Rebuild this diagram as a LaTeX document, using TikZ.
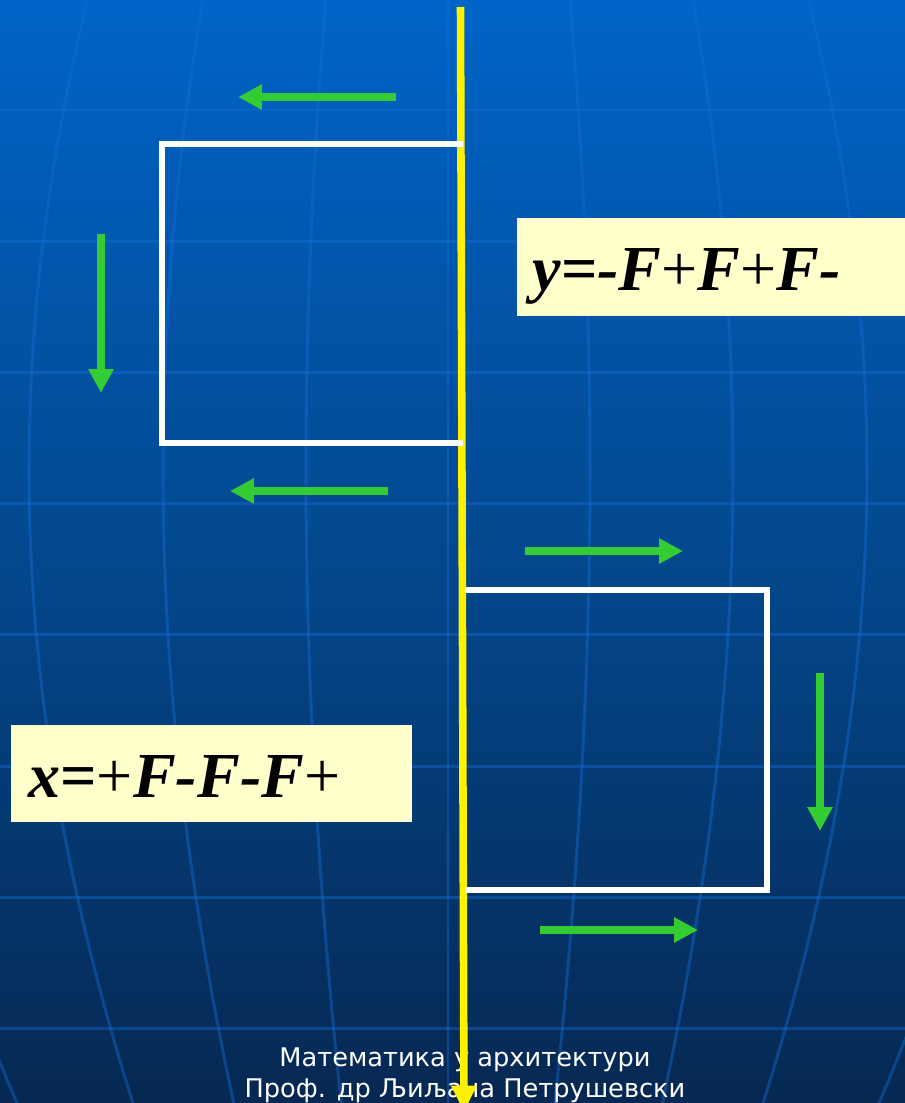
\documentclass[tikz,border=0pt]{standalone}
\usepackage{fontspec}
\setmainfont{Liberation Serif}
\newfontfamily\footfont{DejaVu Sans}
\usetikzlibrary{arrows.meta}
\definecolor{bgtop}{RGB}{0,100,200}
\definecolor{bgmid}{RGB}{3,72,142}
\definecolor{bgbot}{RGB}{6,40,82}
\definecolor{gridblue}{RGB}{20,110,215}
\definecolor{arrowgreen}{RGB}{51,204,51}
\definecolor{notepaper}{RGB}{255,255,204}

\begin{document}
\begin{tikzpicture}[x=0.02cm,y=-0.02cm,
  gridline/.style={gridblue,opacity=0.42,line width=1.7pt},
  frame/.style={white,line width=3.4pt},
  force/.style={arrowgreen,line width=4.5pt,-{Triangle[length=13.6pt,width=13.6pt]}},
  axis/.style={yellow,line width=4.3pt,-{Triangle[length=15pt,width=13.6pt]}},
  formula/.style={anchor=base west,inner sep=0pt,font=\fontsize{36.5}{40}\selectfont\bfseries\itshape},
  credit/.style={anchor=base,inner sep=0pt,white,font=\footfont\fontsize{14.6}{17}\selectfont}]
  \useasboundingbox (0,0) rectangle (905,1103);
  \shade[top color=bgtop,bottom color=bgbot,middle color=bgmid] (0,0) rectangle (905,1103);
  \foreach \yy in {110,241,372,503,634,766,897,1028}
    \draw[gridline] (0,\yy) -- (905,\yy);
  \foreach \k in {-573,-419,-285,-142,0,142,285,419,573}
    \draw[gridline] plot[domain=0:1103,samples=50,variable=\t]
      ({448+\k*cos(deg((\t-470)/880))},\t);

  \fill[notepaper] (517,218) rectangle (905,316);
  \node[formula] (ylaw) at (532,290) {y\textup{=}-F\textup{\mdseries +}F\textup{\mdseries +}F-};
  \fill[notepaper] (11,725) rectangle (412,822);
  \node[formula] (xlaw) at (28,797) {x\textup{=}\textup{\mdseries +}F-F-F\textup{\mdseries +}};

  \node[credit] (course) at (465,1066) {Математика у архитектури};
  \node[credit] (author) at (465,1097) {Проф. др Љиљана Петрушевски};

  \draw[axis] (460.5,7) -- (464,1112);

  \draw[frame] (463,144) -- (162,144) -- (162,443) -- (463,443);
  \draw[frame] (465,590) -- (767,590) -- (767,890) -- (465,890);

  \draw[force] (396,97) -- (238,97);
  \draw[force] (101,234) -- (101,393);
  \draw[force] (388,491) -- (230,491);
  \draw[force] (525,551) -- (683,551);
  \draw[force] (820,673) -- (820,831);
  \draw[force] (540,930) -- (698,930);
\end{tikzpicture}
\end{document}
